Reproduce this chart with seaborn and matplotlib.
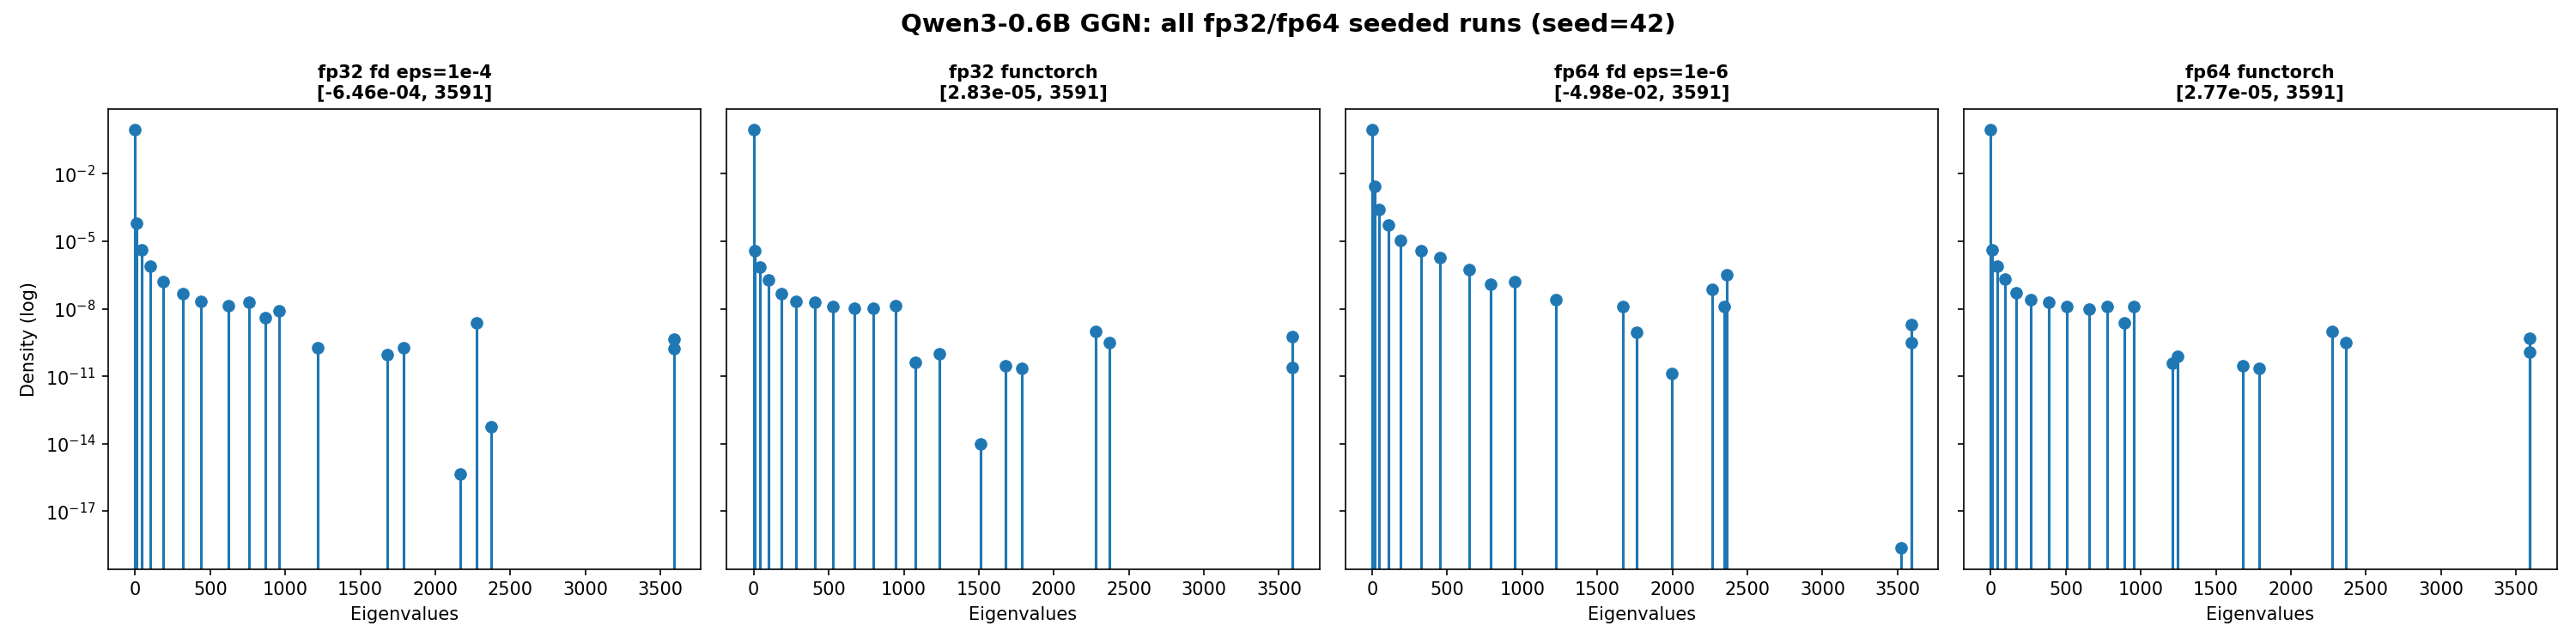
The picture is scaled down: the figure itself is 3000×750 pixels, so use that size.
import numpy as np
import matplotlib
matplotlib.use("Agg")
import matplotlib.pyplot as plt
import seaborn as sns

sns.set_style("ticks", {"xtick.direction": "out", "ytick.direction": "out"})
plt.rcParams["font.family"] = ["DejaVu Sans"]
plt.rcParams["xtick.major.size"] = 3.5
plt.rcParams["ytick.major.size"] = 3.5
for k in ["axes.edgecolor", "text.color", "axes.labelcolor", "xtick.color", "ytick.color"]:
    plt.rcParams[k] = "black"

# eigenvalue bin centres and densities for each run
fp32_fd_x = [0, 10, 41, 103, 185, 320, 441, 620, 756, 867, 959, 1215, 1682, 1790,
             2164, 2277, 2372, 3591, 3591]
fp32_fd_y = [0.9, 6.4e-5, 4.2e-6, 8e-7, 1.6e-7, 4.8e-8, 2.2e-8, 1.4e-8, 2e-8, 4.1e-9,
             8.3e-9, 1.9e-10, 8.8e-11, 1.9e-10, 4.4e-16, 2.3e-9, 5.5e-14, 4.6e-10, 1.7e-10]

fp32_ft_x = [0, 8, 43, 100, 184, 281, 408, 530, 673, 795, 946, 1078, 1238, 1514, 1676,
             1789, 2276, 2368, 3591, 3591]
fp32_ft_y = [0.9, 3.8e-6, 7.2e-7, 1.9e-7, 4.8e-8, 2.2e-8, 2e-8, 1.2e-8, 1.07e-8, 1.07e-8,
             1.4e-8, 4.3e-11, 1.0e-10, 9.5e-15, 2.8e-11, 2.3e-11, 1e-9, 3e-10, 5.9e-10, 2.5e-11]

fp64_fd_x = [0, 14, 46, 108, 189, 327, 449, 646, 789, 951, 1222, 1673, 1760, 1995, 2268,
             2343, 2360, 3522, 3591, 3591]
fp64_fd_y = [0.9, 2.8e-3, 2.6e-4, 5.4e-5, 1.1e-5, 3.9e-6, 1.9e-6, 5.6e-7, 1.26e-7, 1.6e-7,
             2.6e-8, 1.2e-8, 9.3e-10, 1.26e-11, 7.4e-8, 1.2e-8, 3.1e-7, 2.3e-19, 2e-9, 3.2e-10]

fp64_ft_x = [0, 11, 43, 97, 170, 264, 389, 505, 653, 777, 888, 955, 1212, 1247, 1679,
             1787, 2275, 2367, 3591, 3591]
fp64_ft_y = [0.9, 4.1e-6, 8.1e-7, 2.1e-7, 5.3e-8, 2.6e-8, 2e-8, 1.3e-8, 1e-8, 1.2e-8,
             2.3e-9, 1.3e-8, 3.7e-11, 7.4e-11, 2.8e-11, 2.3e-11, 1e-9, 3e-10, 4.9e-10, 1.2e-10]

titles = ["fp32 fd eps=1e-4\n[-6.46e-04, 3591]",
          "fp32 functorch\n[2.83e-05, 3591]",
          "fp64 fd eps=1e-6\n[-4.98e-02, 3591]",
          "fp64 functorch\n[2.77e-05, 3591]"]

runs = [(fp32_fd_x, fp32_fd_y), (fp32_ft_x, fp32_ft_y),
        (fp64_fd_x, fp64_fd_y), (fp64_ft_x, fp64_ft_y)]

fig, axes = plt.subplots(1, 4, figsize=(20, 5), sharey=True)
color = "#1f77b4"

for ax, (xs, ys), title in zip(axes, runs, titles):
    ax.vlines(xs, 1e-30, ys, color=color, lw=1.5)
    sns.scatterplot(x=xs, y=ys, ax=ax, color=color, s=42, edgecolor=None, zorder=3)
    ax.set_yscale("log")
    ax.set_title(title, fontsize=10, fontweight="bold")
    ax.set_xlabel("Eigenvalues")
    ax.set_xlim(-180, 3771)

lo, hi = np.log10(min(min(r[1]) for r in runs)), np.log10(max(max(r[1]) for r in runs))
pad = 0.05 * (hi - lo)
axes[0].set_ylim(10 ** (lo - pad), 10 ** (hi + pad))
axes[0].set_ylabel("Density (log)")

fig.suptitle("Qwen3-0.6B GGN: all fp32/fp64 seeded runs (seed=42)", fontsize=14, fontweight="bold")
plt.tight_layout()
plt.savefig("out.png", dpi=150)
